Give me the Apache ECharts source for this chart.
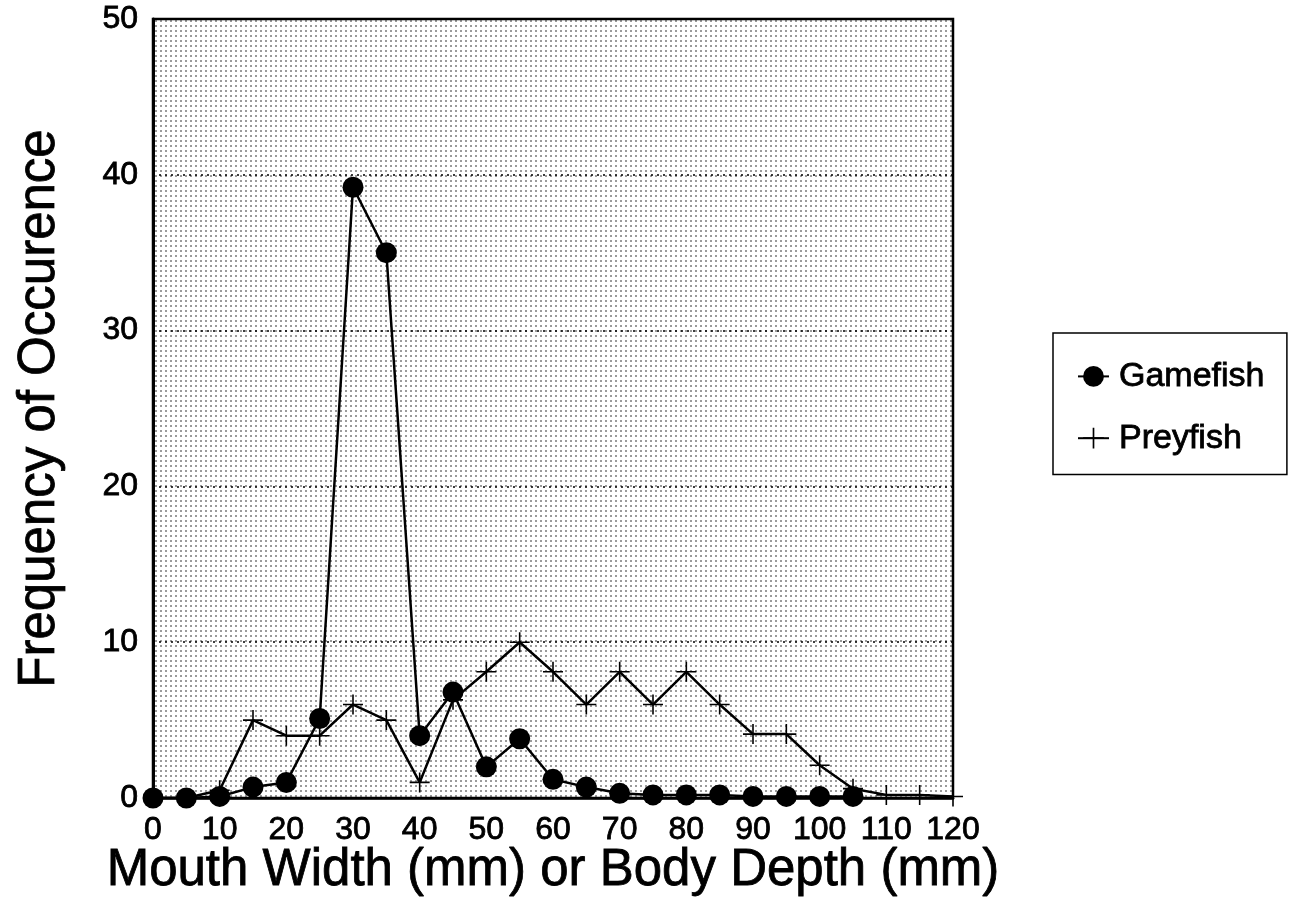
<!DOCTYPE html>
<html>
<head>
<meta charset="utf-8">
<script src="https://cdn.jsdelivr.net/npm/echarts@6/dist/echarts.min.js"></script>
<style>
html,body{margin:0;padding:0;background:#fff;}
#chart{width:1297px;height:899px;}
</style>
</head>
<body>
<div id="chart"></div>
<script>
// ---- data ----
const xValues = [0,5,10,15,20,25,30,35,40,45,50,55,60,65,70,75,80,85,90,95,100,105,110,115,120];
const gamefish = [0,0,0.1,0.7,1.0,5.1,39.2,35.0,4.0,6.8,2.0,3.8,1.2,0.7,0.3,0.2,0.2,0.2,0.1,0.1,0.1,0.1];
const preyfish = [0,0,0.5,5.0,4.0,4.0,6.0,5.0,1.0,6.3,8.1,10.0,8.1,6.0,8.1,6.0,8.1,6.0,4.1,4.1,2.1,0.6,0.2,0.2,0.1];
const seriesNames = ['Gamefish','Preyfish'];
const xTicks = [0,10,20,30,40,50,60,70,80,90,100,110,120];
const yTicks = [0,10,20,30,40,50];
const xTitle = 'Mouth Width (mm) or Body Depth (mm)';
const yTitle = 'Frequency of Occurence';

const FONT = "'Liberation Sans', Arial, Helvetica, sans-serif";
const thick = {textBorderColor:'#000', textBorderWidth:0.8};

// stipple pattern background
const pc = document.createElement('canvas');
pc.width = 5; pc.height = 5;
const pctx = pc.getContext('2d');
pctx.fillStyle = '#ffffff';
pctx.fillRect(0,0,5,5);
pctx.fillStyle = '#9a9a9a';
pctx.fillRect(0,0,2,2);

const plusPath = 'path://M0,9.2H20V10.8H0Z M9.2,0H10.8V20H9.2Z';

const chart = echarts.init(document.getElementById('chart'), null, {renderer:'canvas'});
chart.setOption({
  animation:false,
  backgroundColor:'#fff',
  textStyle:{fontFamily:FONT, color:'#000'},
  grid:{
    left:153, top:19, width:800, height:779,
    outerBoundsMode:'none',
    containLabel:false,
    show:true,
    backgroundColor:{image:pc, repeat:'repeat'},
    borderColor:'#000', borderWidth:2.5
  },
  legend:{
    orient:'vertical',
    left:1053, top:333,
    data:seriesNames,
    borderColor:'#000', borderWidth:1.5,
    padding:[26,22,19,24],
    itemWidth:31, itemHeight:26, itemGap:27,
    textStyle:Object.assign({fontFamily:FONT, fontSize:34, lineHeight:34, color:'#000', padding:[0,0,0,5]}, thick)
  },
  xAxis:{
    type:'value', min:0, max:120, interval:10,
    name:xTitle, nameLocation:'middle', nameGap:47, nameMoveOverlap:false,
    nameTextStyle:Object.assign({fontFamily:FONT, fontSize:51, color:'#000'}, thick),
    axisLine:{show:true, lineStyle:{color:'#000', width:2.5}},
    axisTick:{show:false},
    splitLine:{show:false},
    axisLabel:Object.assign({fontFamily:FONT, fontSize:32, color:'#000', margin:16,
      formatter:v => xTicks.includes(v) ? String(v) : ''}, thick)
  },
  yAxis:{
    type:'value', min:0, max:50, interval:10,
    name:yTitle, nameLocation:'middle', nameGap:88, nameMoveOverlap:false,
    nameTextStyle:Object.assign({fontFamily:FONT, fontSize:51, color:'#000'}, thick),
    axisLine:{show:true, lineStyle:{color:'#000', width:3}},
    axisTick:{show:false},
    splitLine:{show:true, lineStyle:{color:'#000', type:[2,4], width:1.5}},
    axisLabel:Object.assign({fontFamily:FONT, fontSize:32, color:'#000', margin:15,
      formatter:v => yTicks.includes(v) ? String(v) : ''}, thick)
  },
  series:[
    {
      name:seriesNames[1], type:'line',
      data:preyfish.map((v,i)=>[xValues[i], v]),
      symbol:plusPath, symbolSize:20,
      lineStyle:{color:'#000', width:2.5},
      itemStyle:{color:'#000'},
      z:2
    },
    {
      name:seriesNames[0], type:'line',
      data:gamefish.map((v,i)=>[xValues[i], v]),
      symbol:'circle', symbolSize:21,
      lineStyle:{color:'#000', width:2.5},
      itemStyle:{color:'#000'},
      z:3
    }
  ]
});
</script>
</body>
</html>
